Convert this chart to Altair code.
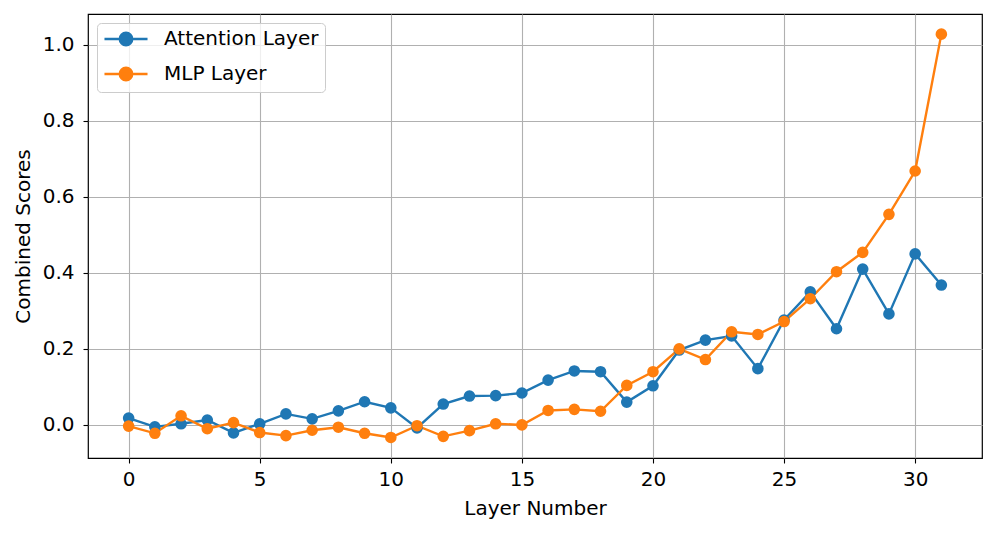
import altair as alt
import pandas as pd

layers = list(range(32))
attention = [0.018, -0.005, 0.003, 0.013, -0.021, 0.003, 0.029, 0.016, 0.037, 0.061,
             0.045, -0.008, 0.055, 0.076, 0.077, 0.084, 0.118, 0.142, 0.140, 0.060,
             0.103, 0.197, 0.223, 0.234, 0.148, 0.276, 0.350, 0.253, 0.410, 0.292,
             0.450, 0.368]
mlp = [-0.003, -0.022, 0.024, -0.010, 0.006, -0.020, -0.028, -0.014, -0.006, -0.022,
       -0.033, -0.002, -0.030, -0.015, 0.003, 0.000, 0.038, 0.041, 0.036, 0.104,
       0.140, 0.200, 0.172, 0.245, 0.238, 0.272, 0.332, 0.403, 0.454, 0.554,
       0.668, 1.028]
series_names = ["Attention Layer", "MLP Layer"]
colors = ["#1f77b4", "#ff7f0e"]

df = pd.DataFrame({
    "layer": layers * 2,
    "score": attention + mlp,
    "series": [series_names[0]] * 32 + [series_names[1]] * 32,
})

font = "DejaVu Sans"
fs = 20
x = alt.X("layer:Q", title="Layer Number",
          scale=alt.Scale(domain=[-1.55, 32.55], nice=False, zero=False),
          axis=alt.Axis(values=[0, 5, 10, 15, 20, 25, 30], format="d"))
y = alt.Y("score:Q", title="Combined Scores",
          scale=alt.Scale(domain=[-0.087, 1.081], nice=False, zero=False),
          axis=alt.Axis(values=[0.0, 0.2, 0.4, 0.6, 0.8, 1.0], format=".1f"))
color = alt.Color("series:N", scale=alt.Scale(domain=series_names, range=colors),
                  legend=alt.Legend(title=None, orient="top-left"))

lines = alt.Chart(df).mark_line(strokeWidth=2.4).encode(x=x, y=y, color=color)
points = alt.Chart(df).mark_point(filled=True, size=135, opacity=1).encode(
    x=x, y=y, color=alt.Color("series:N", scale=alt.Scale(domain=series_names, range=colors), legend=None))

# symbol nominal size 16px (r=8); line spans +-21.5px, circle radius 6px
legend_path = ("M-2.69,0L2.69,0M-0.78,0A0.78,0.78 0 1,1 0.78,0A0.78,0.78 0 1,1 -0.78,0Z")

chart = alt.layer(lines, points).properties(
    width=894, height=444,
    autosize=alt.AutoSizeParams(type="none"),
    padding={"left": 80, "top": 6, "right": 7, "bottom": 68},
).configure_view(
    stroke="black", strokeWidth=1.2
).configure_axis(
    grid=True, gridColor="#b0b0b0", gridWidth=1.1,
    domain=False, tickColor="black", tickSize=5, tickWidth=1.1,
    labelFont=font, labelFontSize=fs, labelColor="black",
    titleFont=font, titleFontSize=fs, titleFontWeight="normal", titleColor="black",
).configure_axisX(labelPadding=6, titlePadding=9).configure_axisY(
    labelPadding=9, titlePadding=9
).configure_legend(
    symbolType=legend_path, symbolSize=256, symbolStrokeWidth=2.4,
    symbolOffset=13, labelOffset=28,
    labelFont=font, labelFontSize=fs, labelColor="black",
    fillColor="rgba(255,255,255,0.8)", strokeColor="#cccccc", cornerRadius=4, padding=6,
    offset=9, rowPadding=11, symbolOpacity=1,
)

chart.save("out.html", embed_options={"renderer": "svg", "actions": False})
